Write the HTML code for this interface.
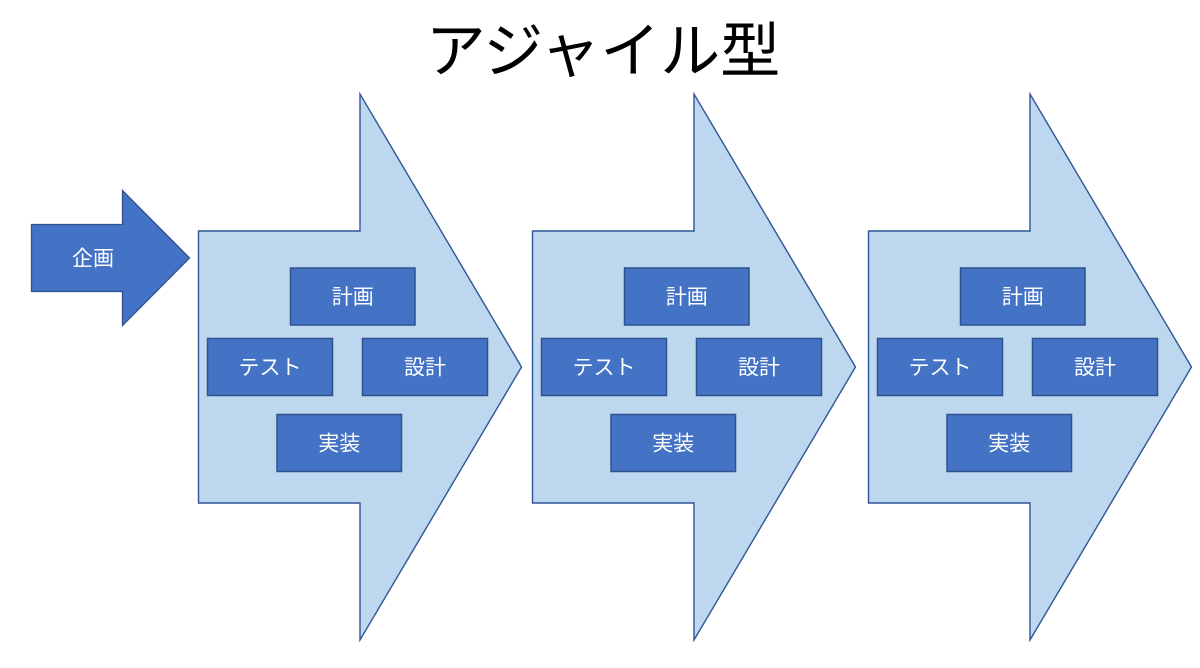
<!DOCTYPE html>
<html>
<head>
<meta charset="utf-8">
<style>
  html, body { margin: 0; padding: 0; background: #ffffff; }
  body { width: 1200px; height: 668px; overflow: hidden; }
  svg { display: block; }
  text { font-family: "Liberation Sans", "Noto Sans CJK JP", sans-serif; }
</style>
</head>
<body>
<svg width="1200" height="668" viewBox="0 0 1200 668" xmlns="http://www.w3.org/2000/svg">
  <rect x="0" y="0" width="1200" height="668" fill="#ffffff"/>

  <!-- Title -->
  <text x="603" y="72" font-size="60" text-anchor="middle" fill="#000000">アジャイル型</text>

  <!-- Small arrow 企画 -->
  <polygon points="31.5,224.5 122.5,224.5 122.5,190.5 189.5,258 122.5,325.5 122.5,291.5 31.5,291.5"
           fill="#4472C4" stroke="#2F528F" stroke-width="1.3"/>
  <text x="93" y="265.5" font-size="21" text-anchor="middle" fill="#ffffff">企画</text>

  <g>
    <polygon points="198.5,231 360,231 360,94 521.5,367 360,640 360,503 198.5,503"
             fill="#BDD7EE" stroke="#2F5597" stroke-width="1.4"/>
    <rect x="290.5" y="268" width="124.5" height="57" fill="#4472C4" stroke="#2F528F" stroke-width="1.5"/>
    <text x="352.75" y="304" font-size="21" text-anchor="middle" fill="#ffffff">計画</text>
    <rect x="207.5" y="338.5" width="125" height="57" fill="#4472C4" stroke="#2F528F" stroke-width="1.5"/>
    <text x="270" y="374.5" font-size="21" text-anchor="middle" fill="#ffffff">テスト</text>
    <rect x="362.5" y="338.5" width="125" height="57" fill="#4472C4" stroke="#2F528F" stroke-width="1.5"/>
    <text x="425" y="374.5" font-size="21" text-anchor="middle" fill="#ffffff">設計</text>
    <rect x="277" y="414.5" width="124.5" height="57" fill="#4472C4" stroke="#2F528F" stroke-width="1.5"/>
    <text x="339.25" y="450.5" font-size="21" text-anchor="middle" fill="#ffffff">実装</text>
  </g>

  <g transform="translate(334,0)">
    <polygon points="198.5,231 360,231 360,94 521.5,367 360,640 360,503 198.5,503"
             fill="#BDD7EE" stroke="#2F5597" stroke-width="1.4"/>
    <rect x="290.5" y="268" width="124.5" height="57" fill="#4472C4" stroke="#2F528F" stroke-width="1.5"/>
    <text x="352.75" y="304" font-size="21" text-anchor="middle" fill="#ffffff">計画</text>
    <rect x="207.5" y="338.5" width="125" height="57" fill="#4472C4" stroke="#2F528F" stroke-width="1.5"/>
    <text x="270" y="374.5" font-size="21" text-anchor="middle" fill="#ffffff">テスト</text>
    <rect x="362.5" y="338.5" width="125" height="57" fill="#4472C4" stroke="#2F528F" stroke-width="1.5"/>
    <text x="425" y="374.5" font-size="21" text-anchor="middle" fill="#ffffff">設計</text>
    <rect x="277" y="414.5" width="124.5" height="57" fill="#4472C4" stroke="#2F528F" stroke-width="1.5"/>
    <text x="339.25" y="450.5" font-size="21" text-anchor="middle" fill="#ffffff">実装</text>
  </g>

  <g transform="translate(670,0)">
    <polygon points="198.5,231 360,231 360,94 521.5,367 360,640 360,503 198.5,503"
             fill="#BDD7EE" stroke="#2F5597" stroke-width="1.4"/>
    <rect x="290.5" y="268" width="124.5" height="57" fill="#4472C4" stroke="#2F528F" stroke-width="1.5"/>
    <text x="352.75" y="304" font-size="21" text-anchor="middle" fill="#ffffff">計画</text>
    <rect x="207.5" y="338.5" width="125" height="57" fill="#4472C4" stroke="#2F528F" stroke-width="1.5"/>
    <text x="270" y="374.5" font-size="21" text-anchor="middle" fill="#ffffff">テスト</text>
    <rect x="362.5" y="338.5" width="125" height="57" fill="#4472C4" stroke="#2F528F" stroke-width="1.5"/>
    <text x="425" y="374.5" font-size="21" text-anchor="middle" fill="#ffffff">設計</text>
    <rect x="277" y="414.5" width="124.5" height="57" fill="#4472C4" stroke="#2F528F" stroke-width="1.5"/>
    <text x="339.25" y="450.5" font-size="21" text-anchor="middle" fill="#ffffff">実装</text>
  </g>
</svg>
</body>
</html>
